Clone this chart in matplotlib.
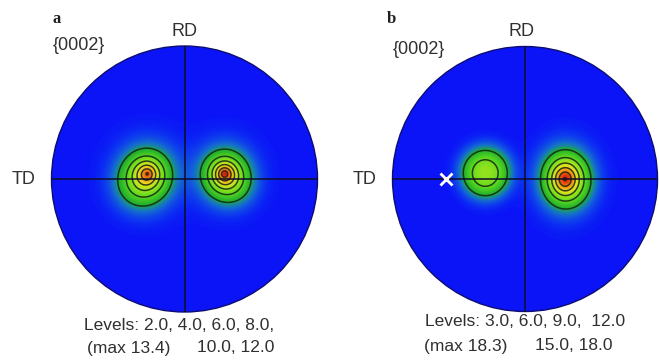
import numpy as np
import matplotlib
matplotlib.use("Agg")
import matplotlib.pyplot as plt
from matplotlib.colors import LinearSegmentedColormap
from matplotlib.patches import Circle

plt.rcParams['font.family'] = ['Liberation Sans', 'DejaVu Sans']

W, H = 659, 360

# ---- chart content -------------------------------------------------------
panel_letters = ['a', 'b']
pole_label = '{0002}'
axis_top = 'RD'
axis_left = 'TD'

levels_a = [2.0, 4.0, 6.0, 8.0, 10.0, 12.0]
levels_b = [3.0, 6.0, 9.0, 12.0, 15.0, 18.0]
max_a = 13.4
max_b = 18.3
levels_text_a = ['Levels: 2.0, 4.0, 6.0, 8.0,', '(max 13.4)', '10.0, 12.0']
levels_text_b = ['Levels: 3.0, 6.0, 9.0,  12.0', '(max 18.3)', '15.0, 18.0']

# intensity components of each pole figure (unit-circle coordinates):
# centre x, centre y, amplitude, width x, width y, profile exponent
comp_a_x = [-0.28, -0.34, 0.30, 0.36]
comp_a_y = [0.04, -0.05, 0.04, -0.04]
comp_a_amp = [10.6, 2.4, 12.2, 1.8]
comp_a_sx = [0.12, 0.17, 0.11, 0.15]
comp_a_sy = [0.125, 0.17, 0.115, 0.15]
comp_a_p = [1.3, 2.0, 1.3, 2.0]

comp_b_x = [-0.30, 0.30, 0.35]
comp_b_y = [0.045, 0.0, -0.02]
comp_b_amp = [7.7, 16.6, 2.0]
comp_b_sx = [0.17, 0.125, 0.15]
comp_b_sy = [0.175, 0.15, 0.17]
comp_b_p = [2.5, 1.5, 2.0]

# marked direction in panel b
marker_b = (-0.595, 0.0)

# ---- colour scale --------------------------------------------------------
cmap = LinearSegmentedColormap.from_list('pole', [
    (0.00, (0.04, 0.08, 0.97)),
    (0.03, (0.05, 0.22, 0.94)),
    (0.08, (0.08, 0.42, 0.82)),
    (0.12, (0.10, 0.56, 0.55)),
    (0.155, (0.12, 0.68, 0.18)),
    (0.30, (0.35, 0.85, 0.12)),
    (0.46, (0.65, 0.90, 0.12)),
    (0.62, (0.93, 0.88, 0.12)),
    (0.78, (0.96, 0.55, 0.06)),
    (1.00, (0.86, 0.06, 0.04)),
])


def fx(px):
    return px / W


def fy(py):
    return 1 - py / H


def build_field(X, Y, xs, ys, amps, sxs, sys_, ps, vmax):
    Z = np.zeros_like(X)
    for x0, y0, a, sx, sy, p in zip(xs, ys, amps, sxs, sys_, ps):
        r = np.sqrt(((X - x0) / sx) ** 2 + ((Y - y0) / sy) ** 2)
        Z += a * np.exp(-r ** p)
    return Z * (vmax / Z.max())


def pole_figure(fig, cx, cy, rad, comps, levels, vmax):
    pad = 1.02
    ax = fig.add_axes([fx(cx - rad * pad), fy(cy + rad * pad),
                       2 * rad * pad / W, 2 * rad * pad / H])
    ax.set_xlim(-pad, pad)
    ax.set_ylim(-pad, pad)
    ax.set_axis_off()

    n = 600
    g = np.linspace(-1, 1, n)
    X, Y = np.meshgrid(g, g)
    Z = build_field(X, Y, *comps, vmax)

    clip = Circle((0, 0), 1, transform=ax.transData)
    im = ax.imshow(Z, extent=(-1, 1, -1, 1), origin='lower', cmap=cmap,
                   vmin=0, vmax=vmax, interpolation='bilinear')
    im.set_clip_path(clip)

    cs = ax.contour(X, Y, Z, levels=levels, colors=[(0.08, 0.14, 0.08)],
                    linewidths=1.1, alpha=0.85)
    cs.set_clip_path(clip)

    for xl, yl in (([-1, 1], [0, 0]), ([0, 0], [-1, 1])):
        ln, = ax.plot(xl, yl, color=(0.05, 0.05, 0.15), lw=1.1)
        ln.set_clip_path(clip)

    ax.add_patch(Circle((0, 0), 1, fill=False, ec=(0.05, 0.05, 0.45), lw=1.0))
    return ax


fig = plt.figure(figsize=(W / 100, H / 100), dpi=100)

txt = dict(color='#303030', fontsize=13)
lvl = dict(color='#303030', fontsize=12.5)

# panel a
pole_figure(fig, 184.5, 179, 133,
            (comp_a_x, comp_a_y, comp_a_amp, comp_a_sx, comp_a_sy, comp_a_p),
            levels_a, max_a)
fig.text(fx(53), fy(19), panel_letters[0], family='Liberation Serif',
         weight='bold', fontsize=12, color='#202020', va='center')
fig.text(fx(53), fy(46), pole_label, va='center', **txt)
fig.text(fx(184), fy(31), axis_top, ha='center', va='center', **txt)
fig.text(fx(24), fy(180), axis_left, ha='center', va='center', **txt)
fig.text(fx(84), fy(325), levels_text_a[0], va='center', **lvl)
fig.text(fx(87), fy(348), levels_text_a[1], va='center', **lvl)
fig.text(fx(197), fy(348), levels_text_a[2], va='center', **lvl)

# panel b
axb = pole_figure(fig, 525, 179, 132.5,
                  (comp_b_x, comp_b_y, comp_b_amp, comp_b_sx, comp_b_sy, comp_b_p),
                  levels_b, max_b)
axb.plot(*marker_b, marker='x', color='white', ms=8, mew=2)
fig.text(fx(387), fy(19), panel_letters[1], family='Liberation Serif',
         weight='bold', fontsize=12, color='#202020', va='center')
fig.text(fx(393), fy(49), pole_label, va='center', **txt)
fig.text(fx(521), fy(31), axis_top, ha='center', va='center', **txt)
fig.text(fx(364.5), fy(180), axis_left, ha='center', va='center', **txt)
fig.text(fx(425), fy(322), levels_text_b[0], va='center', **lvl)
fig.text(fx(424), fy(346), levels_text_b[1], va='center', **lvl)
fig.text(fx(535), fy(346), levels_text_b[2], va='center', **lvl)

fig.savefig('out.png', dpi=100)
